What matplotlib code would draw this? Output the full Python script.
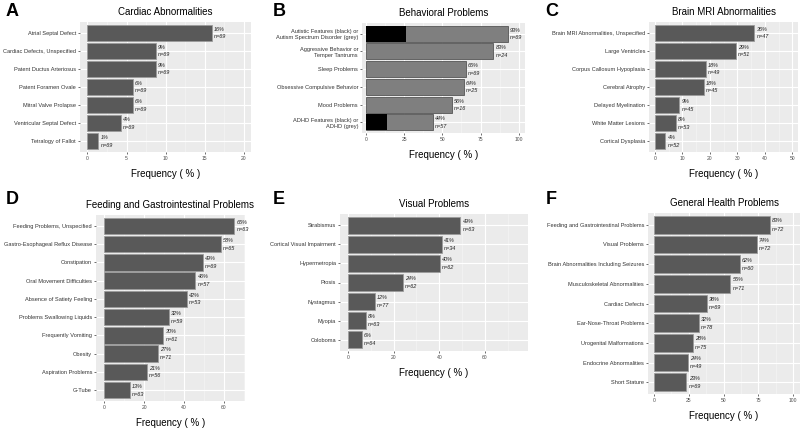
import matplotlib.pyplot as plt

plt.rcParams['font.family'] = ['Liberation Sans', 'DejaVu Sans']

# A - cardiac
card_labels = ['Atrial Septal Defect', 'Cardiac Defects, Unspecified', 'Patent Ductus Arteriosus',
               'Patent Foramen Ovale', 'Mitral Valve Prolapse', 'Ventricular Septal Defect',
               'Tetralogy of Fallot']
card_vals = [15.9, 8.7, 8.7, 5.8, 5.8, 4.3, 1.4]
card_pct = [16, 9, 9, 6, 6, 4, 1]
card_n = [69, 69, 69, 69, 69, 69, 69]

# B - behavioral
beh_labels = ['Autistic Features (black) or\nAutism Spectrum Disorder (grey)',
              'Aggressive Behavior or\nTemper Tantrums', 'Sleep Problems',
              'Obsessive Compulsive Behavior', 'Mood Problems',
              'ADHD Features (black) or\nADHD (grey)']
beh_vals = [92.8, 83.3, 65.2, 64.0, 56.2, 43.9]
beh_black = [26.1, 0, 0, 0, 0, 14.0]
beh_pct = [93, 83, 65, 64, 56, 44]
beh_n = [69, 24, 69, 25, 16, 57]

# C - brain MRI
mri_labels = ['Brain MRI Abnormalities, Unspecified', 'Large Ventricles', 'Corpus Callosum Hypoplasia',
              'Cerebral Atrophy', 'Delayed Myelination', 'White Matter Lesions', 'Cortical Dysplasia']
mri_vals = [36.2, 29.4, 18.4, 17.8, 8.9, 7.5, 3.8]
mri_pct = [36, 29, 18, 18, 9, 8, 4]
mri_n = [47, 51, 49, 45, 45, 53, 52]

# D - feeding / GI
gi_labels = ['Feeding Problems, Unspecified', 'Gastro-Esophageal Reflux Disease', 'Constipation',
             'Oral Movement Difficulties', 'Absence of Satiety Feeling', 'Problems Swallowing Liquids',
             'Frequently Vomiting', 'Obesity', 'Aspiration Problems', 'G-Tube']
gi_vals = [65.1, 58.5, 49.3, 45.6, 41.5, 32.2, 29.5, 26.8, 21.4, 12.7]
gi_pct = [65, 58, 49, 46, 42, 32, 30, 27, 21, 13]
gi_n = [63, 65, 69, 57, 53, 59, 61, 71, 56, 63]

# E - visual
vis_labels = ['Strabismus', 'Cortical Visual Impairment', 'Hypermetropia', 'Ptosis',
              'Nystagmus', 'Myopia', 'Coloboma']
vis_vals = [49.2, 41.2, 40.3, 24.2, 11.7, 7.9, 6.2]
vis_pct = [49, 41, 40, 24, 12, 8, 6]
vis_n = [63, 34, 62, 62, 77, 63, 64]

# F - general health
gen_labels = ['Feeding and Gastrointestinal Problems', 'Visual Problems',
              'Brain Abnormalities Including Seizures', 'Musculoskeletal Abnormalities',
              'Cardiac Defects', 'Ear-Nose-Throat Problems', 'Urogenital Malformations',
              'Endocrine Abnormalities', 'Short Stature']
gen_vals = [83.3, 73.6, 61.7, 54.9, 37.7, 32.1, 28.0, 24.5, 23.2]
gen_pct = [83, 74, 62, 55, 38, 32, 28, 24, 23]
gen_n = [72, 72, 60, 71, 69, 78, 75, 49, 69]

W, H = 800, 433
fig = plt.figure(figsize=(8, 4.33), dpi=100)


def panel(box, labels, vals, pct, ns, xlim, xticks, title, letter, letter_xy,
          color='#595959', edge='#9c9c9c', black=None):
    l, r, t, b = box
    ax = fig.add_axes([l / W, 1 - b / H, (r - l) / W, (b - t) / H])
    ax.set_facecolor('#EBEBEB')
    y = list(range(len(labels)))
    ax.barh(y, vals, height=0.9, color=color, edgecolor=edge, linewidth=0.6, zorder=3)
    if black is not None:
        ax.barh(y, black, height=0.9, color='black', linewidth=0, zorder=4)
    for yi, v, p, n in zip(y, vals, pct, ns):
        ax.annotate(f'{p}%', (v, yi - 0.2), xytext=(1.6, 0), textcoords='offset points',
                    fontsize=4, style='italic', va='center', color='#222222')
        ax.annotate(f'n={n}', (v, yi + 0.22), xytext=(1.6, 0), textcoords='offset points',
                    fontsize=4, style='italic', va='center', color='#222222')
    ax.set_xlim(xlim)
    ax.set_ylim(len(labels) - 0.4, -0.6)
    ax.set_xticks(xticks)
    step = xticks[1] - xticks[0]
    minors = [xticks[0] - step / 2] + [x + step / 2 for x in xticks]
    ax.set_xticks([m for m in minors if xlim[0] < m < xlim[1]], minor=True)
    ax.set_yticks(y, labels)
    ax.grid(which='major', color='white', lw=0.8, zorder=0)
    ax.grid(which='minor', axis='x', color='#F7F7F7', lw=0.4, zorder=0)
    ax.set_axisbelow(True)
    ax.tick_params(which='major', length=1.6, width=0.5, color='#333333', pad=1.2)
    ax.tick_params(which='minor', length=0)
    ax.tick_params(axis='y', labelsize=4.1, labelcolor='#333333')
    ax.tick_params(axis='x', labelsize=3.6, labelcolor='#4d4d4d')
    for s in ax.spines.values():
        s.set_visible(False)
    ax.annotate(title, (0.5, 1), xycoords='axes fraction', xytext=(0, 7.2),
                textcoords='offset points', ha='center', va='center', fontsize=7)
    ax.annotate('Frequency ( % )', (0.5, 0), xycoords='axes fraction', xytext=(0, -15.5),
                textcoords='offset points', ha='center', va='center', fontsize=7)
    fig.text(letter_xy[0] / W, 1 - letter_xy[1] / H, letter, fontsize=13,
             fontweight='bold', ha='center', va='center')
    return ax


panel((80, 251, 22, 152), card_labels, card_vals, card_pct, card_n, (-0.95, 20.9),
      [0, 5, 10, 15, 20], 'Cardiac Abnormalities', 'A', (12, 12))
panel((362, 525, 23, 133), beh_labels, beh_vals, beh_pct, beh_n, (-2.6, 104.1),
      [0, 25, 50, 75, 100], 'Behavioral Problems', 'B', (279, 12),
      color='#7f7f7f', edge='#555555', black=beh_black)
panel((649, 798, 22, 152), mri_labels, mri_vals, mri_pct, mri_n, (-2.2, 52.1),
      [0, 10, 20, 30, 40, 50], 'Brain MRI Abnormalities', 'C', (552, 12))
panel((96, 245, 215, 401), gi_labels, gi_vals, gi_pct, gi_n, (-4.2, 70.5),
      [0, 20, 40, 60], 'Feeding and Gastrointestinal Problems', 'D', (12, 199))
panel((340, 528, 214, 351), vis_labels, vis_vals, vis_pct, vis_n, (-3.4, 78.8),
      [0, 20, 40, 60], 'Visual Problems', 'E', (279, 200))
panel((648, 800, 213, 394), gen_labels, gen_vals, gen_pct, gen_n, (-4.3, 104.8),
      [0, 25, 50, 75, 100], 'General Health Problems', 'F', (551, 200))

fig.savefig('out.png', dpi=100, facecolor='white')
